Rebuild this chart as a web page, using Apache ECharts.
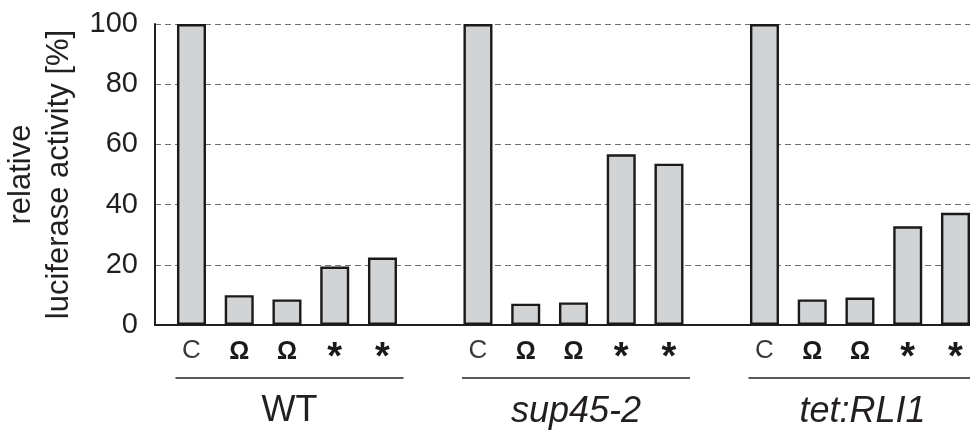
<!DOCTYPE html>
<html><head><meta charset="utf-8">
<script src="https://cdn.jsdelivr.net/npm/echarts@6/dist/echarts.min.js"></script>
<style>html,body{margin:0;padding:0;background:#fff}#c{width:970px;height:436px}</style>
</head><body><div id="c"></div>
<script>
const groupNames = ['WT', 'sup45-2', 'tet:RLI1'];
const groupItalic = [false, true, true];
const sampleLabels = ['C', 'Ω', 'Ω', '*', '*'];
const wtValues = [100, 9.9, 8.5, 19.4, 22.4];
const sup45Values = [100, 7.1, 7.5, 56.7, 53.6];
const tetValues = [100, 8.5, 9.1, 32.8, 37.3];
const yTicks = [0, 20, 40, 60, 80, 100];
const yAxisName = 'relative\nluciferase activity [%]';

const groupValues = [wtValues, sup45Values, tetValues];
const categories = [];
const values = [];
const groupIdx = [];
groupValues.forEach((vals, g) => {
  if (g > 0) { categories.push(''); values.push(null); }
  const start = categories.length;
  vals.forEach((v, i) => { categories.push(sampleLabels[i]); values.push(v); });
  groupIdx.push([start, categories.length - 1]);
});

const FONT = "'Liberation Sans', Arial, sans-serif";
const chart = echarts.init(document.getElementById('c'), null, {renderer: 'canvas'});
const option = {
  backgroundColor: '#fff',
  animation: false,
  grid: [
    {left: 155, right: 0, top: 24, bottom: 111, outerBoundsMode: 'none', containLabel: false},
    {left: 167.6, width: 811.75, top: 24, bottom: 111, outerBoundsMode: 'none', containLabel: false}
  ],
  xAxis: [
    {type: 'value', gridIndex: 0, min: 0, max: 1,
     axisLine: {show: true, lineStyle: {color: '#231f20', width: 2}},
     axisTick: {show: false}, axisLabel: {show: false}, splitLine: {show: false}},
    {type: 'category', gridIndex: 1, data: categories,
     axisLine: {show: false}, axisTick: {show: false},
     axisLabel: {
       interval: 0, margin: 11, fontFamily: FONT,
       formatter: function (v) {
         if (v === 'C') return '{c|C}';
         if (v === 'Ω') return '{o|Ω}';
         if (v === '*') return '{s|*}';
         return '';
       },
       rich: {
         c: {fontSize: 26, color: '#3a3a3a', fontFamily: FONT, lineHeight: 30},
         o: {fontSize: 25, fontWeight: 'bold', color: '#1a1a1a', fontFamily: FONT, lineHeight: 30, padding: [3, 0, 0, 0]},
         s: {fontSize: 38, fontWeight: 'bold', color: '#1a1a1a', fontFamily: FONT, lineHeight: 30, padding: [15, 0, 0, 0]}
       }
     }}
  ],
  yAxis: [
    {type: 'value', gridIndex: 0, min: yTicks[0], max: yTicks[yTicks.length - 1], interval: 20,
     name: yAxisName, nameLocation: 'middle', nameGap: 74,
     nameTextStyle: {fontSize: 31, lineHeight: 38, color: '#231f20', fontFamily: FONT},
     axisLine: {show: true, lineStyle: {color: '#231f20', width: 2}},
     axisTick: {show: false},
     axisLabel: {fontSize: 29, color: '#231f20', margin: 17, fontFamily: FONT},
     splitLine: {show: true, lineStyle: {color: '#707070', width: 1, type: [6, 4]}}},
    {type: 'value', gridIndex: 1, min: 0, max: 100, show: false}
  ],
  series: [{
    type: 'bar', xAxisIndex: 1, yAxisIndex: 1, data: values, barWidth: 29,
    itemStyle: {color: '#d1d3d4', borderColor: '#1a1a1a', borderWidth: 2.4},
    z: 3
  }]
};
chart.setOption(option);

const graphics = [];
groupIdx.forEach((rng, g) => {
  const x0 = chart.convertToPixel({xAxisIndex: 1}, rng[0]);
  const x1 = chart.convertToPixel({xAxisIndex: 1}, rng[1]);
  const lx0 = x0 - 16, lx1 = x1 + 21;
  graphics.push({type: 'line', shape: {x1: lx0, y1: 378, x2: lx1, y2: 378},
    style: {stroke: '#231f20', lineWidth: 1.5}, silent: true});
  graphics.push({type: 'text', x: (lx0 + lx1) / 2, y: 411.5,
    style: {text: groupNames[g], fill: '#231f20',
      font: (groupItalic[g] ? 'italic ' : '') + '36px ' + FONT,
      align: 'center', verticalAlign: 'middle'}, silent: true});
});
chart.setOption({graphic: graphics});
</script>
</body></html>
